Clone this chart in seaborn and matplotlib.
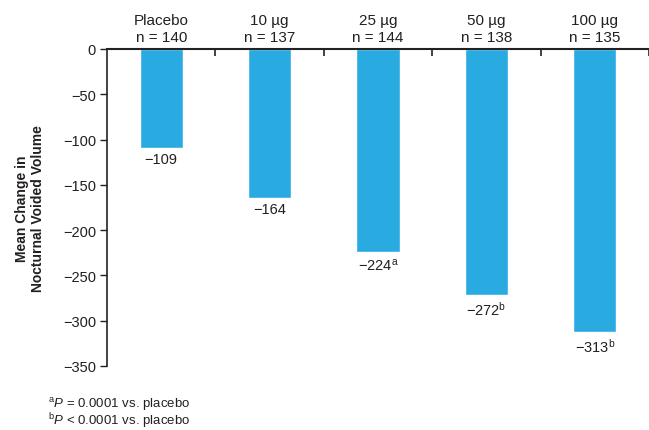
import matplotlib
matplotlib.use("Agg")
import matplotlib.pyplot as plt
import seaborn as sns
import pandas as pd

# data
doses = ["Placebo", "10 µg", "25 µg", "50 µg", "100 µg"]
n_pts = [140, 137, 144, 138, 135]
mean_change = [-109, -164, -224, -272, -313]
sig_marks = ["", "", "a", "b", "b"]
y_ticks = [0, -50, -100, -150, -200, -250, -300, -350]
footnotes = ["a", "b"]
footnote_text = [" = 0.0001 vs. placebo", " < 0.0001 vs. placebo"]

sns.set_style("white")
plt.rcParams["font.family"] = ["Liberation Sans", "DejaVu Sans"]
plt.rcParams["mathtext.fontset"] = "custom"
plt.rcParams["mathtext.rm"] = "Liberation Sans"
plt.rcParams["mathtext.it"] = "Liberation Sans:italic"
txt_col = "#231F20"
bar_col = "#29ABE2"

df = pd.DataFrame({"dose": doses, "change": mean_change})

fig = plt.figure(figsize=(6.49, 4.31), dpi=100)
ax = fig.add_axes([0.1649, 0.1485, 0.835, 0.7355])

sns.barplot(data=df, x="dose", y="change", color=bar_col, saturation=1,
            width=0.4, ax=ax)

ax.set_ylim(-350, 0)
ax.set_xlim(-0.5, len(doses) - 0.5)
ax.set_yticks(y_ticks)
ax.tick_params(axis="y", direction="out", length=5, width=1, labelsize=10.5,
               colors=txt_col, left=True, pad=3)

# x axis on top, ticks at category boundaries
ax.xaxis.tick_top()
ax.set_xticks([i + 0.5 for i in range(len(doses))])
ax.set_xticklabels([])
ax.tick_params(axis="x", direction="in", length=5, width=1.2, top=True,
               bottom=False, color="#222222")
for i, (d, n) in enumerate(zip(doses, n_pts)):
    ax.text(i, 1.015, f"{d}\nn = {n}", transform=ax.get_xaxis_transform(),
            ha="center", va="bottom", fontsize=11, color=txt_col,
            linespacing=1.25)

for s in ["right", "bottom"]:
    ax.spines[s].set_visible(False)
ax.spines["top"].set_linewidth(1.5)
ax.spines["left"].set_linewidth(1.2)
ax.spines["top"].set_color("#222222")
ax.spines["left"].set_color("#222222")

ax.set_xlabel("")
ax.set_ylabel("Mean Change in\nNocturnal Voided Volume", fontsize=10,
              fontweight="bold", color=txt_col, labelpad=13, linespacing=1.15)

# value labels
for i, (v, m) in enumerate(zip(mean_change, sig_marks)):
    lab = f"\u2212{abs(v)}"
    if m:
        lab += r"$^{\mathrm{" + m + "}}$"
    ax.text(i, v - 5, lab, ha="center", va="top", fontsize=10.5, color=txt_col)

# footnotes
for k, (m, t) in enumerate(zip(footnotes, footnote_text)):
    fig.text(0.074, 0.062 - k * 0.04,
             r"$^{\mathrm{" + m + r"}}\mathit{P}$" + t,
             fontsize=9.5, color=txt_col, ha="left", va="center")

fig.savefig("out.png", dpi=100)
